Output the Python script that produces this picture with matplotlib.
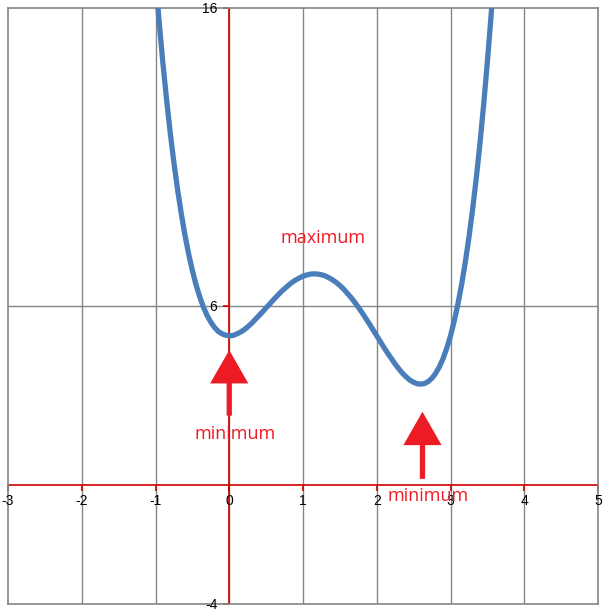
import matplotlib.pyplot as plt

# curve
xs = [-1.0, -0.95, -0.9, -0.85, -0.8, -0.75, -0.7, -0.65, -0.6, -0.55,
      -0.5, -0.45, -0.4, -0.35, -0.3, -0.25, -0.2, -0.15, -0.1, -0.05,
      0.0, 0.05, 0.1, 0.15, 0.2, 0.25, 0.3, 0.35, 0.4, 0.45,
      0.5, 0.55, 0.6, 0.65, 0.7, 0.75, 0.8, 0.85, 0.9, 0.95,
      1.0, 1.05, 1.1, 1.15, 1.2, 1.25, 1.3, 1.35, 1.4, 1.45,
      1.5, 1.55, 1.6, 1.65, 1.7, 1.75, 1.8, 1.85, 1.9, 1.95,
      2.0, 2.05, 2.1, 2.15, 2.2, 2.25, 2.3, 2.35, 2.4, 2.45,
      2.5, 2.55, 2.6, 2.65, 2.7, 2.75, 2.8, 2.85, 2.9, 2.95,
      3.0, 3.05, 3.1, 3.15, 3.2, 3.25, 3.3, 3.35, 3.4, 3.45,
      3.5, 3.55, 3.6]
ys = [17.0, 15.52, 14.16, 12.93, 11.81, 10.80, 9.90, 9.09, 8.37, 7.74,
      7.19, 6.71, 6.31, 5.96, 5.68, 5.46, 5.28, 5.15, 5.07, 5.02,
      5.0, 5.01, 5.06, 5.12, 5.20, 5.30, 5.41, 5.54, 5.67, 5.80,
      5.94, 6.07, 6.21, 6.34, 6.47, 6.58, 6.69, 6.79, 6.87, 6.94,
      7.0, 7.04, 7.07, 7.08, 7.07, 7.05, 7.01, 6.95, 6.88, 6.79,
      6.69, 6.57, 6.43, 6.29, 6.13, 5.96, 5.78, 5.59, 5.40, 5.20,
      5.0, 4.80, 4.60, 4.41, 4.23, 4.05, 3.89, 3.74, 3.62, 3.51,
      3.44, 3.39, 3.38, 3.40, 3.47, 3.58, 3.75, 3.96, 4.24, 4.59,
      5.0, 5.49, 6.06, 6.71, 7.46, 8.30, 9.25, 10.30, 11.47, 12.77,
      14.19, 15.74, 17.44]

x_ticks = [-3, -2, -1, 0, 1, 2, 3, 4, 5]
y_ticks = [-4, 6, 16]

# annotations: (text, x, y)
labels = [("maximum", 1.27, 8.29), ("minimum", 0.08, 1.72), ("minimum", 2.70, -0.37)]
# arrows: (tail, tip)
arrows = [((0.0, 2.32), (0.0, 4.52)), ((2.62, 0.2), (2.62, 2.45))]

red = "#ED1C24"
axis_red = "#CC0000"
grid_gray = "#858585"

fig = plt.figure(figsize=(6.04, 6.11), dpi=100)
ax = fig.add_axes([8 / 604, 7 / 611, 590 / 604, 596 / 611])
ax.set_xlim(-3, 5)
ax.set_ylim(-4, 16)
ax.set_xticks([])
ax.set_yticks([])
for s in ax.spines.values():
    s.set_color(grid_gray)
    s.set_linewidth(1.2)

for x in x_ticks[1:-1]:
    ax.axvline(x, color=grid_gray, lw=1.0, zorder=1)
ax.axhline(6, color=grid_gray, lw=1.0, zorder=1)

ax.axhline(0, color=axis_red, lw=1.2, zorder=2)
ax.axvline(0, color=axis_red, lw=1.2, zorder=2)
ax.plot(x_ticks, [0] * len(x_ticks), ls="none", marker=3, ms=4,
        mec=axis_red, mew=1.2, clip_on=False, zorder=2)
ax.plot([0] * len(y_ticks), y_ticks, ls="none", marker=0, ms=4,
        mec=axis_red, mew=1.2, clip_on=False, zorder=2)

for x in x_ticks:
    ax.annotate(str(x), (x, 0), xytext=(0, -6.5), textcoords="offset points",
                ha="center", va="top", fontsize=10, family="Liberation Sans",
                annotation_clip=False)
for y in y_ticks:
    ax.annotate(str(y), (0, y), xytext=(-8.5, -0.5), textcoords="offset points",
                ha="right", va="center", fontsize=10, family="Liberation Sans",
                annotation_clip=False)

ax.plot(xs, ys, color="#4A7EBB", lw=3.8, solid_capstyle="round",
        solid_joinstyle="round", zorder=3)

for tail, tip in arrows:
    ax.annotate("", xy=tip, xytext=tail,
                arrowprops=dict(arrowstyle="simple,head_length=2.4,head_width=2.75,tail_width=0.38",
                                color=red, lw=0, mutation_scale=10,
                                shrinkA=0, shrinkB=0), zorder=4)

for text, x, y in labels:
    ax.text(x, y, text, color=red, fontsize=13, family="Open Sans",
            ha="center", va="center", zorder=5)

fig.savefig("out.png", dpi=100)
